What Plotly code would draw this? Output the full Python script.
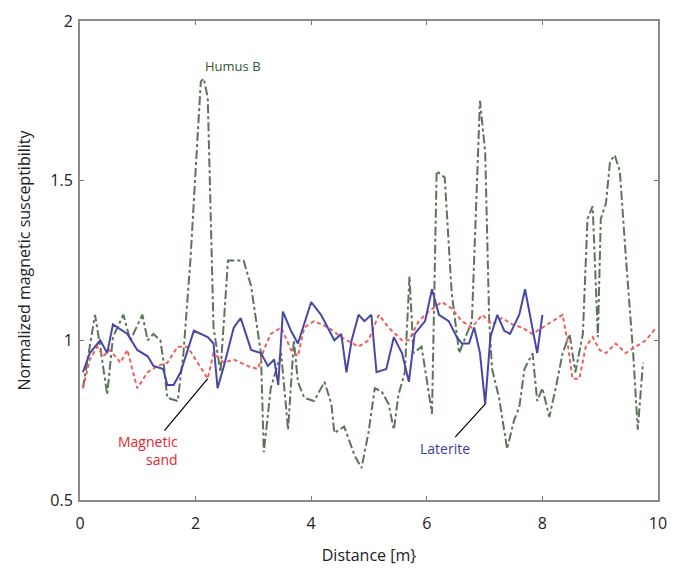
import plotly.graph_objects as go

# Humus B (dash-dot green)
humus_x = [0.05, 0.26, 0.35, 0.47, 0.57, 0.75, 0.87, 1.08, 1.17, 1.27, 1.39, 1.44, 1.51, 1.69, 1.79,
           1.91, 2.09, 2.14, 2.21, 2.31, 2.43, 2.56, 2.66, 2.83, 2.96, 3.13, 3.18, 3.30, 3.48, 3.60,
           3.70, 3.77, 3.88, 4.05, 4.23, 4.35, 4.40, 4.57, 4.75, 4.87, 4.99, 5.10, 5.22, 5.34, 5.43,
           5.51, 5.62, 5.70, 5.77, 5.91, 6.09, 6.17, 6.31, 6.43, 6.56, 6.70, 6.78, 6.92, 7.01, 7.08,
           7.13, 7.25, 7.39, 7.51, 7.60, 7.69, 7.83, 7.91, 8.00, 8.12, 8.23, 8.35, 8.47, 8.57, 8.70,
           8.78, 8.87, 8.96, 9.01, 9.10, 9.17, 9.25, 9.34, 9.44, 9.57, 9.65, 9.74]
humus_y = [0.85, 1.08, 0.98, 0.83, 1.01, 1.08, 1.00, 1.08, 1.00, 1.02, 1.00, 0.94, 0.82, 0.81, 0.96,
           1.25, 1.81, 1.82, 1.76, 1.04, 0.90, 1.25, 1.25, 1.25, 1.17, 0.96, 0.65, 0.85, 0.96, 0.72,
           1.00, 0.87, 0.82, 0.81, 0.87, 0.80, 0.71, 0.73, 0.64, 0.60, 0.71, 0.85, 0.84, 0.80, 0.72,
           0.83, 0.90, 1.20, 0.96, 0.98, 0.77, 1.53, 1.51, 1.15, 0.96, 1.02, 1.06, 1.75, 1.59, 1.06,
           0.91, 0.82, 0.66, 0.75, 0.79, 0.91, 0.96, 0.81, 0.85, 0.76, 0.85, 0.96, 1.02, 0.90, 1.02,
           1.38, 1.42, 1.01, 1.38, 1.43, 1.56, 1.58, 1.53, 1.27, 0.96, 0.72, 0.93]

# Laterite (solid blue)
lat_x = [0.05, 0.17, 0.35, 0.47, 0.57, 0.82, 0.99, 1.17, 1.27, 1.44, 1.51, 1.62, 1.74, 1.97, 2.21,
         2.31, 2.38, 2.49, 2.66, 2.78, 2.96, 3.13, 3.25, 3.36, 3.43, 3.51, 3.65, 3.77, 4.00, 4.17,
         4.40, 4.52, 4.61, 4.70, 4.82, 4.92, 5.04, 5.13, 5.30, 5.43, 5.57, 5.69, 5.79, 5.97, 6.09,
         6.21, 6.38, 6.52, 6.61, 6.73, 6.82, 6.92, 7.01, 7.10, 7.22, 7.34, 7.44, 7.60, 7.70, 7.83,
         7.91, 8.00]
lat_y = [0.90, 0.96, 1.00, 0.96, 1.05, 1.02, 0.97, 0.95, 0.92, 0.91, 0.86, 0.86, 0.90, 1.03, 1.01,
         0.99, 0.85, 0.92, 1.04, 1.07, 0.97, 0.96, 0.92, 0.94, 0.86, 1.09, 1.03, 0.99, 1.12, 1.08,
         1.00, 1.02, 0.90, 1.00, 1.08, 1.06, 1.08, 0.90, 0.91, 1.01, 0.96, 0.87, 1.02, 1.06, 1.16,
         1.08, 1.06, 1.01, 0.99, 0.99, 1.04, 0.96, 0.80, 1.01, 1.08, 1.03, 1.02, 1.08, 1.16, 1.04,
         0.96, 1.08]

# Magnetic sand (dashed red)
sand_x = [0.05, 0.17, 0.30, 0.40, 0.52, 0.70, 0.82, 0.99, 1.17, 1.34, 1.51, 1.69, 1.86, 2.03, 2.21,
          2.31, 2.49, 2.66, 2.90, 3.08, 3.18, 3.30, 3.48, 3.65, 3.77, 3.88, 4.05, 4.30, 4.52, 4.82,
          4.99, 5.17, 5.34, 5.57, 5.69, 5.86, 6.03, 6.26, 6.43, 6.61, 6.78, 6.96, 7.13, 7.30, 7.48,
          7.65, 7.83, 8.00, 8.17, 8.35, 8.43, 8.52, 8.64, 8.75, 8.87, 8.99, 9.10, 9.27, 9.44, 9.62,
          9.79, 9.97]
sand_y = [0.85, 0.94, 0.98, 0.95, 0.97, 0.93, 0.97, 0.85, 0.90, 0.92, 0.93, 0.98, 0.98, 0.93, 0.88,
          0.96, 0.93, 0.94, 0.92, 0.91, 0.97, 1.02, 1.04, 0.97, 0.95, 1.04, 1.06, 1.04, 1.01, 0.98,
          1.00, 1.08, 1.04, 1.00, 1.00, 1.06, 1.09, 1.12, 1.10, 1.06, 1.04, 1.08, 1.05, 1.07, 1.05,
          1.04, 1.02, 1.04, 1.06, 1.08, 1.00, 0.88, 0.88, 0.98, 1.01, 0.97, 0.96, 0.99, 0.96, 0.98,
          1.00, 1.04]

x_ticks = [0, 2, 4, 6, 8, 10]
y_ticks = [0.5, 1, 1.5, 2]
y_tick_text = ["0.5", "1", "1.5", "2"]

FONT = "Open Sans"
fig = go.Figure()
fig.add_trace(go.Scatter(x=humus_x, y=humus_y, mode="lines", name="Humus B",
                         line=dict(color="#5d745b", width=2, dash="dashdot")))
fig.add_trace(go.Scatter(x=sand_x, y=sand_y, mode="lines", name="Magnetic sand",
                         line=dict(color="#ee6058", width=2, dash="4px,3px")))
fig.add_trace(go.Scatter(x=lat_x, y=lat_y, mode="lines", name="Laterite",
                         line=dict(color="#4747a8", width=2)))

# annotations pointing at series features
li = lat_y.index(min(lat_y))
si = sand_x.index(2.21)
hi = humus_y.index(max(humus_y))
fig.add_annotation(x=lat_x[li], y=lat_y[li], text="Laterite", showarrow=True, arrowhead=0,
                   arrowwidth=1.2, arrowcolor="black", ax=-40, ay=44,
                   font=dict(family=FONT, size=14, color="#3b3ba0"))
fig.add_annotation(x=sand_x[si], y=sand_y[si], text="Magnetic<br>sand", showarrow=True,
                   arrowhead=0, arrowwidth=1.2, arrowcolor="black", ax=-60, ay=72, align="right",
                   font=dict(family=FONT, size=14, color="#e8242a"))
fig.add_annotation(x=humus_x[hi] + 0.5, y=humus_y[hi] + 0.04, text="Humus B", showarrow=False,
                   font=dict(family=FONT, size=13, color="#2f5a2f"))

axis_common = dict(showgrid=False, zeroline=False, showline=True, linecolor="#8a8a8a",
                   linewidth=2, mirror="ticks", ticks="inside", ticklen=4, tickcolor="#777",
                   automargin=False, tickfont=dict(family=FONT, size=16, color="#222"))
fig.update_xaxes(range=[0, 10], tickvals=x_ticks, ticklabelstandoff=8,
                 title=dict(text="Distance [m}", standoff=17,
                            font=dict(family=FONT, size=16, color="#222")), **axis_common)
fig.update_yaxes(range=[0.5, 2], tickvals=y_ticks, ticktext=y_tick_text, ticklabelstandoff=2,
                 title=dict(text="Normalized magnetic susceptibility", standoff=16,
                            font=dict(family=FONT, size=16, color="#222")), **axis_common)
fig.update_layout(width=673, height=560, showlegend=False, plot_bgcolor="white",
                  paper_bgcolor="white", margin=dict(l=72, r=23, t=13, b=68))
fig.write_html("out.html")
